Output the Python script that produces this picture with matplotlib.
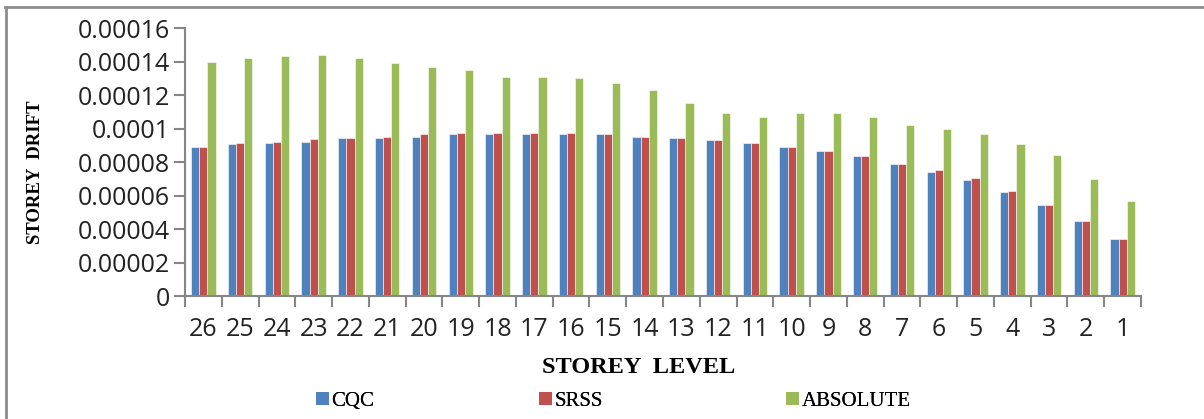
import matplotlib
matplotlib.use("Agg")
import matplotlib.pyplot as plt
import numpy as np
from matplotlib.ticker import FixedLocator, FuncFormatter
from matplotlib.lines import Line2D
from matplotlib.patches import Patch

storey_levels = ["26", "25", "24", "23", "22", "21", "20", "19", "18", "17", "16", "15", "14",
                 "13", "12", "11", "10", "9", "8", "7", "6", "5", "4", "3", "2", "1"]
cqc = [0.0000889, 0.0000905, 0.0000911, 0.0000919, 0.0000943, 0.0000943, 0.0000951, 0.0000965,
       0.0000965, 0.0000965, 0.0000965, 0.0000965, 0.0000949, 0.0000941, 0.0000933, 0.0000911,
       0.0000889, 0.0000866, 0.0000836, 0.0000790, 0.0000742, 0.0000690, 0.0000621, 0.0000543,
       0.0000446, 0.0000339]
srss = [0.0000889, 0.0000911, 0.0000919, 0.0000935, 0.0000943, 0.0000951, 0.0000965, 0.0000973,
        0.0000973, 0.0000973, 0.0000973, 0.0000965, 0.0000949, 0.0000941, 0.0000933, 0.0000911,
        0.0000889, 0.0000866, 0.0000836, 0.0000790, 0.0000750, 0.0000704, 0.0000629, 0.0000543,
        0.0000446, 0.0000339]
absolute = [0.000140, 0.000142, 0.000143, 0.000144, 0.000142, 0.000139, 0.000137, 0.000135,
            0.000131, 0.000131, 0.000130, 0.000127, 0.000123, 0.000115, 0.000109, 0.000107,
            0.000109, 0.000109, 0.000107, 0.000102, 0.000100, 0.000097, 0.000091, 0.000084,
            0.000070, 0.000057]
y_ticks = [0, 0.00002, 0.00004, 0.00006, 0.00008, 0.0001, 0.00012, 0.00014, 0.00016]
series_names = ["CQC", "SRSS", "ABSOLUTE"]
colors = ["#4F81BD", "#C0504D", "#9BBB59"]

fig = plt.figure(figsize=(12.04, 4.19), dpi=100)
ax = fig.add_axes([185 / 1204, 1 - 296 / 419, (1141 - 185) / 1204, (296 - 28) / 419])

x = np.arange(len(storey_levels))
w = 1 / 4.5
for k, (vals, col) in enumerate(zip([cqc, srss, absolute], colors)):
    ax.bar(x + (k - 1) * w, vals, width=w, color=col, edgecolor="white", linewidth=0.4,
           label=series_names[k])

ax.set_xlim(-0.5, len(storey_levels) - 0.5)
ax.set_ylim(0, 0.00016)

grey = "#868686"
for s in ["top", "right"]:
    ax.spines[s].set_visible(False)
for s in ["left", "bottom"]:
    ax.spines[s].set_color(grey)
    ax.spines[s].set_linewidth(1.5)

ax.set_yticks(y_ticks)
ax.yaxis.set_major_formatter(FuncFormatter(lambda v, p: ("%.5f" % v).rstrip("0").rstrip(".") if v else "0"))
ax.tick_params(axis="y", direction="out", length=8, width=1.5, color=grey, pad=3,
               labelcolor="#222222")
for lab in ax.get_yticklabels():
    lab.set_fontfamily("Open Sans")
    lab.set_fontsize(18)

ax.set_xticks(x)
ax.set_xticklabels(storey_levels, fontfamily="Open Sans", fontsize=18, color="#222222")
ax.tick_params(axis="x", which="major", length=0, pad=15)
ax.xaxis.set_minor_locator(FixedLocator(np.arange(-0.5, len(storey_levels), 1.0)))
ax.tick_params(axis="x", which="minor", direction="out", length=8, width=1.5, color=grey)

fig.text(35 / 1204, 1 - 172 / 419, "STOREY  DRIFT", rotation=90, ha="center", va="center",
         fontfamily="Liberation Serif", fontweight="bold", fontsize=13.5)
fig.text(639 / 1204, 1 - 367 / 419, "STOREY  LEVEL", ha="center", va="center",
         fontfamily="Liberation Serif", fontweight="bold", fontsize=17.5)

legend_x = [316, 539, 786]
for name, col, lx in zip(series_names, colors, legend_x):
    leg = fig.legend([Patch(facecolor=col, edgecolor="none")], [name], loc="center left",
                     bbox_to_anchor=(lx / 1204, 1 - 401 / 419), frameon=False,
                     prop=dict(family="Liberation Serif", size=15),
                     handlelength=0.6, handleheight=0.6, handletextpad=0.15,
                     borderaxespad=0, borderpad=0)
    fig.add_artist(leg)

fig.add_artist(Line2D([6 / 1204, 6 / 1204], [0, 1 - 7 / 419], color="#8c8c8c", linewidth=2,
                      transform=fig.transFigure))
fig.add_artist(Line2D([5 / 1204, 1], [1 - 7 / 419, 1 - 7 / 419], color="#8c8c8c", linewidth=2,
                      transform=fig.transFigure))

fig.savefig("out.png", dpi=100)
